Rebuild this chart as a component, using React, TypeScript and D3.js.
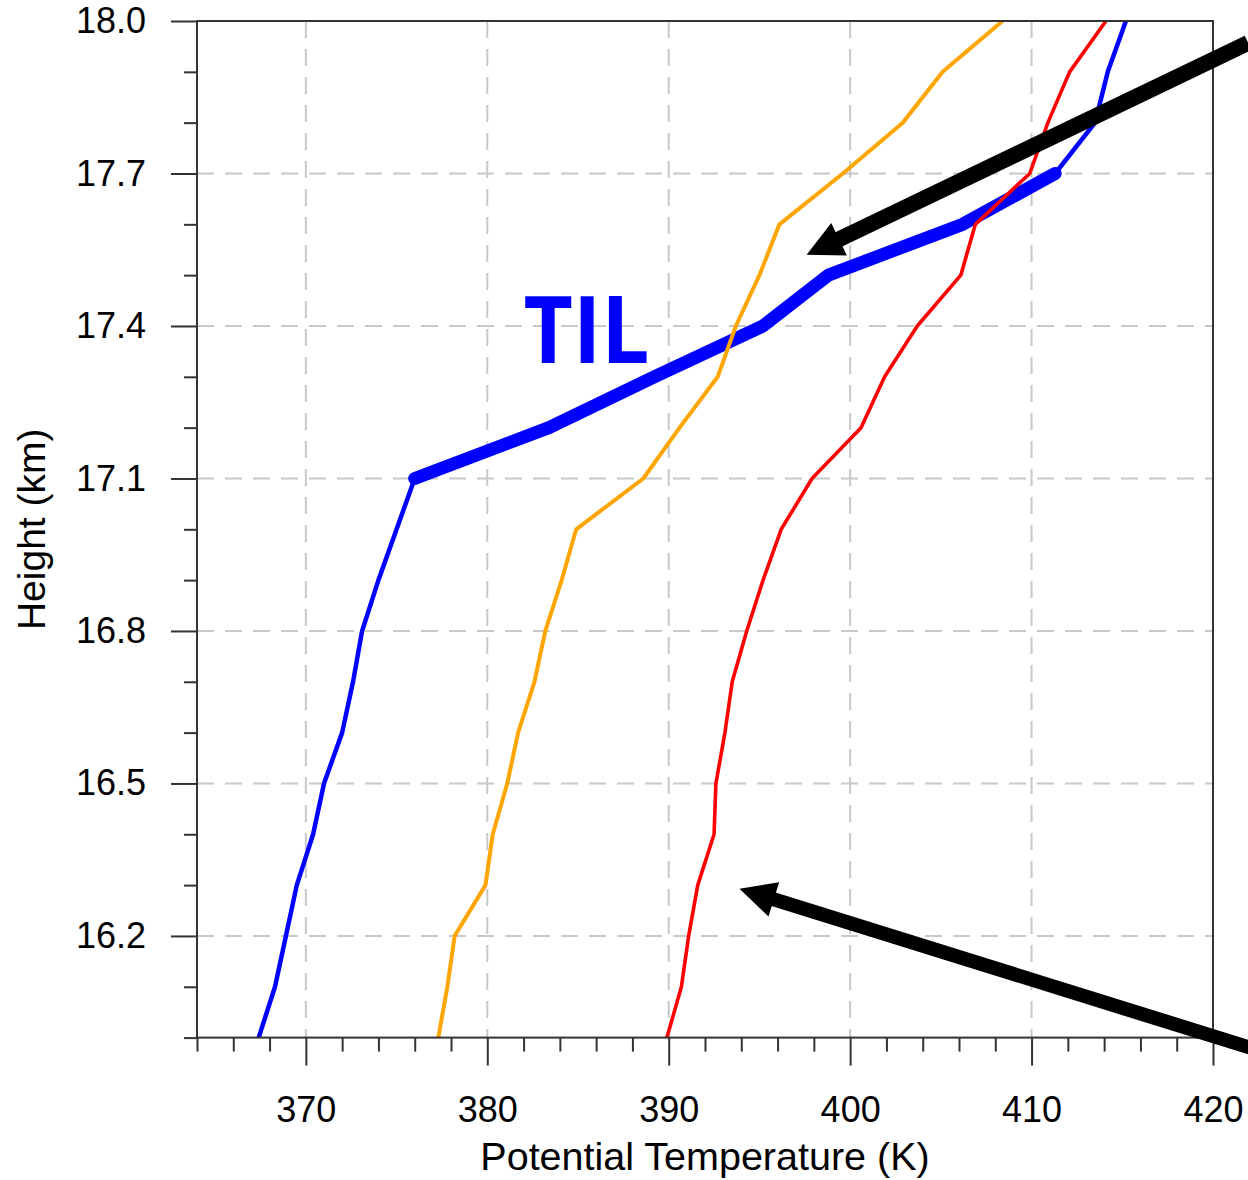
import { useEffect, useRef } from 'react';
import * as d3 from 'd3';

// heights (km) of the profile levels
const heights = [16.0, 16.1, 16.2, 16.3, 16.4, 16.5, 16.6, 16.7, 16.8, 16.9, 17.0,
  17.1, 17.2, 17.3, 17.4, 17.5, 17.6, 17.7, 17.8, 17.9, 18.0];

// potential temperature (K) per level
const blueTheta = [367.4, 368.3, 368.9, 369.5, 370.4, 371.0, 372.0, 372.6, 373.1, 374.0, 375.0,
  376.0, 383.4, 389.2, 395.2, 398.8, 406.2, 411.3, 413.5, 414.2, 415.2];
const orangeTheta = [377.3, 377.8, 378.2, 379.9, 380.3, 381.1, 381.7, 382.6, 383.2, 384.1, 384.9,
  388.6, 390.6, 392.7, 393.7, 395.0, 396.1, 399.6, 402.9, 405.1, 408.4];
const redTheta = [389.9, 390.7, 391.1, 391.6, 392.5, 392.6, 393.1, 393.5, 394.3, 395.2, 396.2,
  397.9, 400.6, 401.9, 403.7, 406.1, 406.9, 409.9, 410.9, 412.1, 414.1];

// the TIL segment of the blue profile
const tilRange = [17.1, 17.7];

const xMajor = [370, 380, 390, 400, 410, 420];
const yMajor = [16.2, 16.5, 16.8, 17.1, 17.4, 17.7, 18.0];

// annotation arrows, [tail, tip] in (K, km)
const arrows = [
  [[421.94, 17.957], [397.6, 17.54]],
  [[422.6, 15.974], [393.9, 16.293]],
];

const font = "'Liberation Sans', Arial, Helvetica, sans-serif";

export default function App() {
  const svgRef = useRef();

  useEffect(() => {
    document.body.style.margin = '0';
    const width = 1248;
    const height = 1180;
    const margin = { top: 21, right: 35, bottom: 142.4, left: 197 };
    const innerWidth = width - margin.left - margin.right;
    const innerHeight = height - margin.top - margin.bottom;

    const svg = d3.select(svgRef.current)
      .attr('width', width)
      .attr('height', height);
    svg.selectAll('*').remove();

    const chart = svg.append('g')
      .attr('transform', `translate(${margin.left},${margin.top})`);

    const xScale = d3.scaleLinear().domain([364, 420]).range([0, innerWidth]);
    const yScale = d3.scaleLinear().domain([16.0, 18.0]).range([innerHeight, 0]);

    // grid
    chart.selectAll('.vgrid')
      .data(xMajor.filter(d => d < 420))
      .join('line')
      .attr('x1', d => xScale(d)).attr('x2', d => xScale(d))
      .attr('y1', 0).attr('y2', innerHeight)
      .attr('stroke', '#c8c8c8').attr('stroke-width', 2)
      .attr('stroke-dasharray', '17 11');
    chart.selectAll('.hgrid')
      .data(yMajor.filter(d => d < 18))
      .join('line')
      .attr('y1', d => yScale(d)).attr('y2', d => yScale(d))
      .attr('x1', 0).attr('x2', innerWidth)
      .attr('stroke', '#c8c8c8').attr('stroke-width', 2)
      .attr('stroke-dasharray', '17 11');

    // axes
    const xMinor = d3.range(364, 421, 2).filter(d => !xMajor.includes(d));
    const yMinor = heights.filter(h => !yMajor.some(m => Math.abs(m - h) < 1e-6));

    const xAxis = chart.append('g')
      .attr('transform', `translate(0,${innerHeight})`)
      .call(d3.axisBottom(xScale).tickValues(xMajor).tickSize(28).tickPadding(31).tickFormat(d3.format('d')));
    chart.append('g')
      .attr('transform', `translate(0,${innerHeight})`)
      .call(d3.axisBottom(xScale).tickValues(xMinor).tickSize(14).tickFormat(() => ''));
    const yAxis = chart.append('g')
      .call(d3.axisLeft(yScale).tickValues(yMajor).tickSize(26).tickPadding(25).tickFormat(d3.format('.1f')));
    chart.append('g')
      .call(d3.axisLeft(yScale).tickValues(yMinor).tickSize(13).tickFormat(() => ''));

    chart.selectAll('.domain').remove();
    chart.selectAll('.tick line').attr('stroke', '#333').attr('stroke-width', 2);
    [xAxis, yAxis].forEach(a => a.selectAll('text')
      .attr('fill', '#000')
      .style('font-family', font)
      .style('font-size', '36px'));

    // lines
    const line = (vals) => d3.line()
      .x((d, i) => xScale(vals[i]))
      .y(d => yScale(d))(heights);

    const tilIdx = heights.map((h, i) => i).filter(i => heights[i] >= tilRange[0] - 1e-6 && heights[i] <= tilRange[1] + 1e-6);
    const tilLine = d3.line()
      .x(i => xScale(blueTheta[i]))
      .y(i => yScale(heights[i]))(tilIdx);

    chart.append('path').attr('d', line(blueTheta))
      .attr('fill', 'none').attr('stroke', '#0000ff').attr('stroke-width', 4.5)
      .attr('stroke-linejoin', 'round');
    chart.append('path').attr('d', tilLine)
      .attr('fill', 'none').attr('stroke', '#0000ff').attr('stroke-width', 13)
      .attr('stroke-linejoin', 'round').attr('stroke-linecap', 'round');
    chart.append('path').attr('d', line(orangeTheta))
      .attr('fill', 'none').attr('stroke', '#ffa500').attr('stroke-width', 4)
      .attr('stroke-linejoin', 'round');
    chart.append('path').attr('d', line(redTheta))
      .attr('fill', 'none').attr('stroke', '#ff0000').attr('stroke-width', 3.6)
      .attr('stroke-linejoin', 'round');

    // frame
    chart.append('rect')
      .attr('x', 0).attr('y', 0).attr('width', innerWidth).attr('height', innerHeight)
      .attr('fill', 'none').attr('stroke', '#333').attr('stroke-width', 2);

    // TIL label
    chart.append('text')
      .attr('x', xScale(382.0))
      .attr('y', yScale(17.328))
      .attr('textLength', 126)
      .attr('lengthAdjust', 'spacingAndGlyphs')
      .attr('fill', '#0000ff')
      .style('font-family', "'Open Sans', 'DejaVu Sans', sans-serif")
      .style('font-weight', 'bold')
      .style('font-size', '93px')
      .text('TIL');

    // arrows
    arrows.forEach(([tail, tip], k) => {
      const x0 = xScale(tail[0]), y0 = yScale(tail[1]);
      const x1 = xScale(tip[0]), y1 = yScale(tip[1]);
      const len = Math.hypot(x0 - x1, y0 - y1);
      const ux = (x0 - x1) / len, uy = (y0 - y1) / len;
      const headLen = 36, headHalf = 18;
      const bx = x1 + ux * headLen, by = y1 + uy * headLen;
      chart.append('line')
        .attr('x1', x0).attr('y1', y0).attr('x2', bx - ux * 2).attr('y2', by - uy * 2)
        .attr('stroke', '#000').attr('stroke-width', k === 0 ? 16 : 14);
      chart.append('path')
        .attr('d', `M${x1},${y1}L${bx - uy * headHalf},${by + ux * headHalf}L${bx + uy * headHalf},${by - ux * headHalf}Z`)
        .attr('fill', '#000');
    });

    // axis titles
    svg.append('text')
      .attr('x', margin.left + innerWidth / 2)
      .attr('y', 1170)
      .attr('text-anchor', 'middle')
      .style('font-family', font)
      .style('font-size', '39.5px')
      .text('Potential Temperature (K)');
    svg.append('text')
      .attr('transform', `translate(45,${margin.top + innerHeight / 2}) rotate(-90)`)
      .attr('text-anchor', 'middle')
      .style('font-family', font)
      .style('font-size', '39px')
      .text('Height (km)');
  }, []);

  return (
    <div style={{ width: 1248, height: 1180, overflow: 'hidden' }}>
      <svg ref={svgRef} style={{ display: 'block', background: '#fff' }}></svg>
    </div>
  );
}
